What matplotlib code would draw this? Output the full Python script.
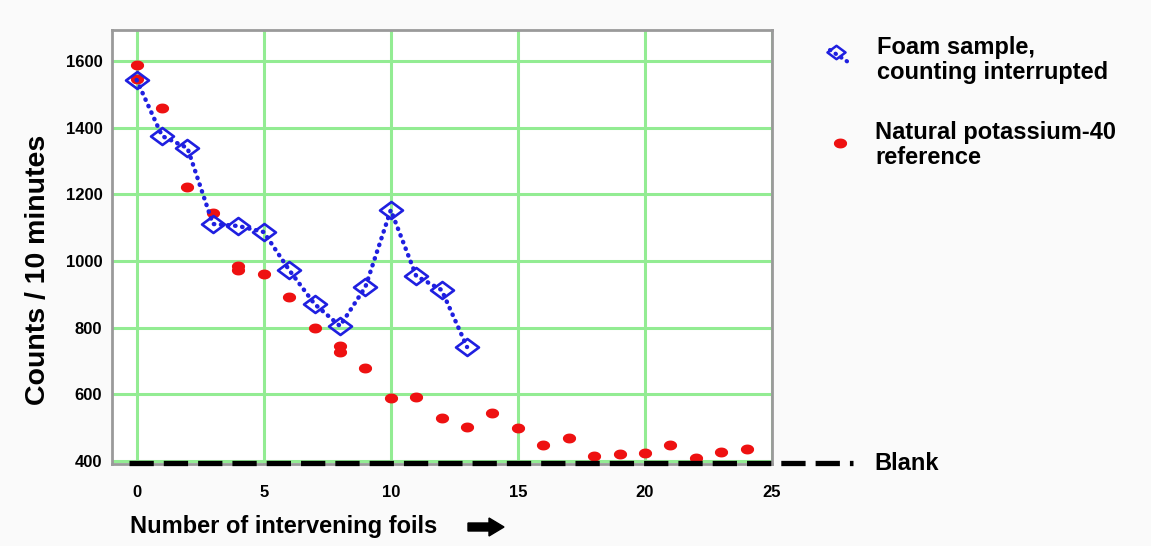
"""Foil absorption counts: foam sample vs natural K-40 reference."""
import numpy as np
import matplotlib
matplotlib.use("Agg")
import matplotlib.pyplot as plt
from matplotlib.lines import Line2D
from matplotlib.path import Path
from matplotlib.patches import FancyArrow

# foam sample, counting interrupted (blue diamonds)
foam_x = [0, 1, 2, 3, 4, 5, 6, 7, 8, 9, 10, 11, 12, 13]
foam_y = [1543, 1375, 1339, 1111, 1105, 1087, 973, 871, 805, 922, 1153, 955, 913, 742]

# natural potassium-40 reference (red dots)
k40_x = [0, 0, 1, 2, 3, 4, 4, 5, 6, 7, 8, 8, 9, 10, 11, 12, 13, 14, 15, 16,
         17, 18, 19, 20, 21, 22, 23, 24]
k40_y = [1588, 1546, 1459, 1222, 1144, 985, 972, 961, 892, 800, 746, 728, 679,
         589, 592, 529, 503, 545, 499, 448, 469, 415, 421, 425, 448, 409, 428, 436]

BLANK = 393
xticks = [0, 5, 10, 15, 20, 25]
yticks = [400, 600, 800, 1000, 1200, 1400, 1600]

FONT = "Liberation Sans"
GREEN = "#93ec93"
BLUE = "#1f1fe0"
RED = "#ee1111"
DOTS = (0, (0.1, 1.5))

# the original is stretched sideways: wide diamonds, oval dots
WIDE_DIAMOND = Path([(-1.35, 0), (0, 1), (1.35, 0), (0, -1), (-1.35, 0)],
                    [Path.MOVETO, Path.LINETO, Path.LINETO, Path.LINETO, Path.CLOSEPOLY])
t = np.linspace(0, 2 * np.pi, 40)
OVAL = Path(np.column_stack([np.cos(t), 0.72 * np.sin(t)]))

W, H = 1151, 546
fig = plt.figure(figsize=(W / 100, H / 100), dpi=100, facecolor="#fafafa")
ax = fig.add_axes([112 / W, 1 - 464 / H, (772 - 112) / W, (464 - 30) / H])
ax.set_facecolor("white")

ax.set_xlim(-0.97, 24.8)
ax.set_ylim(391, 1693)
ax.set_xticks(xticks)
ax.set_yticks(yticks)
ax.grid(True, color=GREEN, linewidth=2.2, zorder=0)
ax.set_axisbelow(True)
ax.tick_params(length=0)
ax.tick_params(axis="x", pad=15)
ax.tick_params(axis="y", pad=7)
for lab in ax.get_xticklabels() + ax.get_yticklabels():
    lab.set_fontfamily(FONT)
    lab.set_fontweight("bold")
    lab.set_fontsize(12)
for s in ax.spines.values():
    s.set_color("#9a9a9a")
    s.set_linewidth(2)

# blank level, dashed, runs past the axes
ax.plot([-0.3, 28.2], [BLANK, BLANK], color="black", lw=3.8,
        dashes=(4.6, 1.9), clip_on=False, zorder=5)

ax.plot(k40_x, k40_y, linestyle="none", marker=OVAL, ms=8.5, color=RED,
        markeredgecolor=RED, zorder=3)
ax.plot(foam_x, foam_y, color=BLUE, lw=3.2, linestyle=DOTS,
        dash_capstyle="round", zorder=4)
ax.plot(foam_x, foam_y, linestyle="none", marker=WIDE_DIAMOND, ms=16.5,
        mfc="none", mec=BLUE, mew=1.9, zorder=4)

# y label sits a bit below the axes centre in the original
fig.text(38 / W, 1 - 270 / H, "Counts / 10 minutes", fontfamily=FONT,
         fontweight="bold", fontsize=20.5, rotation=90, ha="center", va="center")

# x label + arrow
fig.text(130 / W, 1 - 527 / H, "Number of intervening foils", fontfamily=FONT,
         fontweight="bold", fontsize=17, ha="left", va="center")
fig.patches.append(FancyArrow(
    468 / W, 1 - 527 / H, 36 / W, 0, width=8 / H, head_width=18 / H,
    head_length=15 / W, length_includes_head=True, color="black",
    transform=fig.transFigure, figure=fig))

# legend, drawn by hand to the right
fig.add_artist(Line2D([830 / W, 848 / W], [1 - 50 / H, 1 - 62 / H], color=BLUE,
                      lw=3, linestyle=DOTS, dash_capstyle="round",
                      transform=fig.transFigure))
fig.add_artist(Line2D([836 / W], [1 - 52 / H], marker=WIDE_DIAMOND, ms=13,
                      mfc="none", mec=BLUE, mew=1.8, transform=fig.transFigure))
fig.text(877 / W, 1 - 60 / H, "Foam sample,\ncounting interrupted",
         fontfamily=FONT, fontweight="bold", fontsize=17, ha="left",
         va="center", linespacing=1.12)
fig.add_artist(Line2D([840 / W], [1 - 143 / H], marker=OVAL, ms=8.5, color=RED,
                      transform=fig.transFigure))
fig.text(875 / W, 1 - 145 / H, "Natural potassium-40\nreference",
         fontfamily=FONT, fontweight="bold", fontsize=17, ha="left",
         va="center", linespacing=1.12)
fig.text(874 / W, 1 - 463 / H, "Blank", fontfamily=FONT, fontweight="bold",
         fontsize=17, ha="left", va="center")

fig.savefig("out.png", dpi=100, facecolor=fig.get_facecolor())
